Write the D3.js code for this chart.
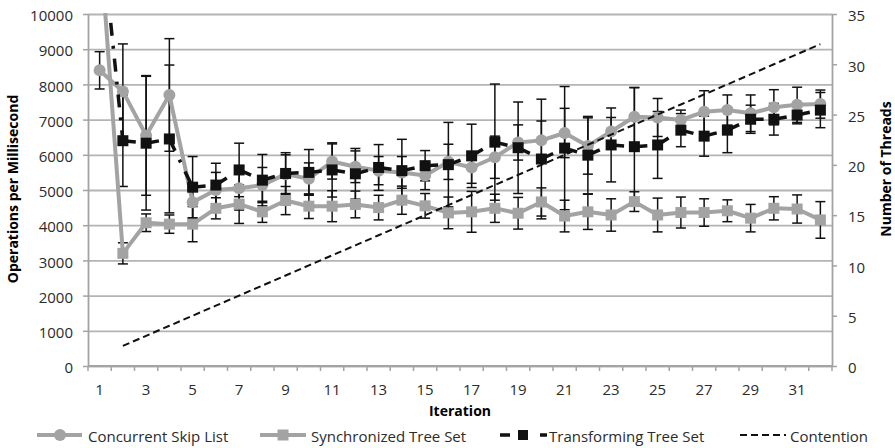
<!DOCTYPE html>
<html>
<head>
<meta charset="utf-8">
<script src="https://cdn.jsdelivr.net/npm/d3@7"></script>
<style>
    body { margin: 0; background: #fff; }
    text { font-family: "Open Sans", sans-serif; }
</style>
</head>
<body>
<div id="chart"></div>
<script>
// chart data
var iterations = [1, 2, 3, 4, 5, 6, 7, 8, 9, 10, 11, 12, 13, 14, 15, 16,
    17, 18, 19, 20, 21, 22, 23, 24, 25, 26, 27, 28, 29, 30, 31, 32];

var skipList = [8400, 7800, 6550, 7700, 4650, 5000, 5050, 5140, 5450, 5320, 5810, 5660, 5550, 5500, 5410, 5800,
    5640, 5930, 6350, 6410, 6620, 6250, 6660, 7080, 7060, 6990, 7220, 7270, 7180, 7350, 7420, 7440];
var skipListErr = [530, 1350, 1700, 1600, 450, 500, 620, 500, 550, 450, 500, 450, 400, 450, 400, 500,
    450, 600, 500, 550, 700, 800, 400, 830, 540, 280, 600, 430, 520, 500, 500, 400];

var syncTree = [12200, 3200, 4070, 4030, 4030, 4480, 4600, 4380, 4700, 4540, 4540, 4590, 4500, 4710, 4550, 4350,
    4380, 4480, 4340, 4660, 4260, 4380, 4290, 4670, 4290, 4360, 4360, 4410, 4200, 4480, 4460, 4150];
var syncTreeErr = [800, 300, 250, 260, 500, 300, 550, 300, 400, 350, 440, 380, 350, 400, 350, 450,
    580, 400, 450, 400, 450, 500, 460, 280, 480, 440, 390, 310, 390, 330, 400, 520];

var transTree = [12800, 6400, 6330, 6450, 5080, 5140, 5570, 5280, 5470, 5500, 5570, 5460, 5640, 5550, 5690, 5720,
    5970, 6360, 6200, 5880, 6190, 5990, 6280, 6230, 6280, 6700, 6530, 6700, 7010, 7010, 7130, 7270];
var transTreeErr = [1500, 1300, 1900, 2100, 870, 620, 760, 730, 590, 650, 770, 720, 650, 890, 430, 1200,
    900, 1650, 1300, 1700, 1750, 1100, 1050, 1680, 950, 470, 570, 640, 400, 450, 250, 500];

// number of threads (secondary axis), no value for the first iteration
var contention = [null, 2, 3, 4, 5, 6, 7, 8, 9, 10, 11, 12, 13, 14, 15, 16,
    17, 18, 19, 20, 21, 22, 23, 24, 25, 26, 27, 28, 29, 30, 31, 32];

// tick labels
var leftTicks = [0, 1000, 2000, 3000, 4000, 5000, 6000, 7000, 8000, 9000, 10000];
var rightTicks = [0, 5, 10, 15, 20, 25, 30, 35];
var xLabels = [1, 3, 5, 7, 9, 11, 13, 15, 17, 19, 21, 23, 25, 27, 29, 31];

var seriesNames = ["Concurrent Skip List", "Synchronized Tree Set", "Transforming Tree Set", "Contention"];

// svg area
var svgWidth = 895;
var svgHeight = 448;
var margin = { top: 14, right: 63, bottom: 82, left: 88 };
var plotWidth = svgWidth - margin.left - margin.right;
var plotHeight = svgHeight - margin.top - margin.bottom;

var grey = "#a3a3a3";
var gridGrey = "#b4b4b4";
var labelColour = "#2b2b2b";

var svg = d3.select("#chart").append("svg")
    .attr("width", svgWidth)
    .attr("height", svgHeight);

var chartGroup = svg.append("g")
    .attr("transform", `translate(${margin.left}, ${margin.top})`);

// clip to the plot area
svg.append("defs").append("clipPath")
    .attr("id", "plotClip")
    .append("rect")
    .attr("x", 0).attr("y", -1)
    .attr("width", plotWidth).attr("height", plotHeight + 1);

// scales
var xScale = d3.scaleBand().domain(iterations).range([0, plotWidth]);
var cx = d => xScale(d) + xScale.bandwidth() / 2;
var yLeft = d3.scaleLinear().domain([0, 10000]).range([plotHeight, 0]);
var yRight = d3.scaleLinear().domain([0, 35]).range([plotHeight, 0]);

// gridlines
var grid = chartGroup.append("g")
    .call(d3.axisLeft(yLeft).tickValues(leftTicks).tickSize(-plotWidth).tickFormat(""));
grid.select(".domain").remove();
grid.selectAll("line").attr("stroke", gridGrey).attr("stroke-width", 1.8);

// left axis
var leftAxis = chartGroup.append("g")
    .call(d3.axisLeft(yLeft).tickValues(leftTicks).tickFormat(d3.format("d"))
        .tickSize(5).tickSizeOuter(0).tickPadding(10));
leftAxis.select(".domain").attr("stroke", grey).attr("stroke-width", 1.8);
leftAxis.selectAll("line").attr("stroke", grey).attr("stroke-width", 1.5);
leftAxis.selectAll("text").attr("font-size", 15).attr("fill", labelColour).attr("dy", "0.45em");

// right axis
var rightAxis = chartGroup.append("g")
    .attr("transform", `translate(${plotWidth}, 0)`)
    .call(d3.axisRight(yRight).tickValues(rightTicks).tickFormat(d3.format("d"))
        .tickSize(5).tickSizeOuter(0).tickPadding(11));
rightAxis.select(".domain").attr("stroke", grey).attr("stroke-width", 1.8);
rightAxis.selectAll("line").attr("stroke", grey).attr("stroke-width", 1.5);
rightAxis.selectAll("text").attr("font-size", 15).attr("fill", labelColour).attr("dy", "0.45em");

// bottom axis: line, ticks between categories, labels on odd iterations
var bottomAxis = chartGroup.append("g")
    .attr("transform", `translate(0, ${plotHeight})`);
bottomAxis.append("line")
    .attr("x1", 0).attr("x2", plotWidth)
    .attr("stroke", grey).attr("stroke-width", 1.8);
bottomAxis.selectAll(".xtick").data(iterations.concat(["end"])).enter()
    .append("line")
    .attr("x1", d => d === "end" ? plotWidth : xScale(d))
    .attr("x2", d => d === "end" ? plotWidth : xScale(d))
    .attr("y1", 0).attr("y2", 5)
    .attr("stroke", grey).attr("stroke-width", 1.5);
bottomAxis.selectAll(".xlabel").data(xLabels).enter()
    .append("text")
    .attr("x", d => cx(d))
    .attr("y", 29)
    .attr("text-anchor", "middle")
    .attr("font-size", 15)
    .attr("fill", labelColour)
    .text(d => d);

// axis titles
svg.append("text")
    .attr("transform", "translate(17.5, 189) rotate(-90)")
    .attr("text-anchor", "middle")
    .attr("font-size", 14).attr("font-weight", "bold")
    .text("Operations per Millisecond");

svg.append("text")
    .attr("transform", "translate(891, 169) rotate(-90)")
    .attr("text-anchor", "middle")
    .attr("font-size", 14).attr("font-weight", "bold")
    .text("Number of Threads");

svg.append("text")
    .attr("x", margin.left + plotWidth / 2)
    .attr("y", 416)
    .attr("text-anchor", "middle")
    .attr("font-size", 14).attr("font-weight", "bold")
    .text("Iteration");

// plot layer
var plot = chartGroup.append("g").attr("clip-path", "url(#plotClip)");

function rowsOf(values, errors) {
    return iterations.map((it, i) => ({ it: it, v: values[i], e: errors ? errors[i] : 0 }));
}

// error bars
function drawErrorBars(values, errors) {
    var bars = plot.append("g").selectAll("g").data(rowsOf(values, errors)).enter().append("g")
        .attr("stroke", "#111").attr("stroke-width", 1.5);
    bars.append("line")
        .attr("x1", d => cx(d.it)).attr("x2", d => cx(d.it))
        .attr("y1", d => yLeft(d.v + d.e)).attr("y2", d => yLeft(d.v - d.e));
    bars.append("line")
        .attr("x1", d => cx(d.it) - 5).attr("x2", d => cx(d.it) + 5)
        .attr("y1", d => yLeft(d.v + d.e)).attr("y2", d => yLeft(d.v + d.e));
    bars.append("line")
        .attr("x1", d => cx(d.it) - 5).attr("x2", d => cx(d.it) + 5)
        .attr("y1", d => yLeft(d.v - d.e)).attr("y2", d => yLeft(d.v - d.e));
}

drawErrorBars(skipList, skipListErr);
drawErrorBars(syncTree, syncTreeErr);
drawErrorBars(transTree, transTreeErr);

var lineLeft = d3.line().x(d => cx(d.it)).y(d => yLeft(d.v));

// concurrent skip list: grey line, circles
plot.append("path")
    .datum(rowsOf(skipList))
    .attr("d", lineLeft)
    .attr("fill", "none").attr("stroke", grey).attr("stroke-width", 4).attr("stroke-linejoin", "round");
plot.append("g").selectAll("circle").data(rowsOf(skipList)).enter()
    .append("circle")
    .attr("cx", d => cx(d.it)).attr("cy", d => yLeft(d.v))
    .attr("r", 6).attr("fill", grey);

// synchronized tree set: grey line, squares
plot.append("path")
    .datum(rowsOf(syncTree))
    .attr("d", lineLeft)
    .attr("fill", "none").attr("stroke", grey).attr("stroke-width", 4).attr("stroke-linejoin", "round");
plot.append("g").selectAll("rect").data(rowsOf(syncTree)).enter()
    .append("rect")
    .attr("x", d => cx(d.it) - 5.5).attr("y", d => yLeft(d.v) - 5.5)
    .attr("width", 11).attr("height", 11).attr("fill", grey);

// transforming tree set: black dash-dot, pattern restarts on every segment
var transRows = rowsOf(transTree);
plot.append("g").selectAll("line").data(transRows.slice(1)).enter()
    .append("line")
    .attr("x1", (d, i) => cx(transRows[i].it)).attr("y1", (d, i) => yLeft(transRows[i].v))
    .attr("x2", d => cx(d.it)).attr("y2", d => yLeft(d.v))
    .attr("stroke", "#111").attr("stroke-width", 3.5)
    .attr("stroke-dasharray", "13,10,3,10");
plot.append("g").selectAll("rect").data(transRows).enter()
    .append("rect")
    .attr("x", d => cx(d.it) - 5.5).attr("y", d => yLeft(d.v) - 5.5)
    .attr("width", 11).attr("height", 11).attr("fill", "#111");

// contention on the secondary axis
plot.append("path")
    .datum(iterations.map((it, i) => ({ it: it, v: contention[i] })).filter(d => d.v !== null))
    .attr("d", d3.line().x(d => cx(d.it)).y(d => yRight(d.v)))
    .attr("fill", "none").attr("stroke", "#111").attr("stroke-width", 2)
    .attr("stroke-dasharray", "7,4");

// legend
var legendY = 435;
var legend = svg.append("g");
var legendItems = [
    { name: seriesNames[0], x0: 37, x1: 82, textX: 88 },
    { name: seriesNames[1], x0: 260, x1: 306, textX: 311 },
    { name: seriesNames[2], x0: 500, x1: 547, textX: 549 },
    { name: seriesNames[3], x0: 740, x1: 786, textX: 790 }
];

// skip list key
legend.append("line").attr("x1", legendItems[0].x0).attr("x2", legendItems[0].x1)
    .attr("y1", legendY).attr("y2", legendY).attr("stroke", grey).attr("stroke-width", 4);
legend.append("circle").attr("cx", 60).attr("cy", legendY).attr("r", 6).attr("fill", grey);
// synchronized key
legend.append("line").attr("x1", legendItems[1].x0).attr("x2", legendItems[1].x1)
    .attr("y1", legendY).attr("y2", legendY).attr("stroke", grey).attr("stroke-width", 4);
legend.append("rect").attr("x", 283 - 5.5).attr("y", legendY - 5.5).attr("width", 11).attr("height", 11).attr("fill", grey);
// transforming key
legend.append("line").attr("x1", legendItems[2].x0).attr("x2", legendItems[2].x1)
    .attr("y1", legendY).attr("y2", legendY).attr("stroke", "#111").attr("stroke-width", 3.5)
    .attr("stroke-dasharray", "10,30,7");
legend.append("rect").attr("x", 523 - 5).attr("y", legendY - 5).attr("width", 10).attr("height", 10).attr("fill", "#111");
// contention key
legend.append("line").attr("x1", legendItems[3].x0).attr("x2", legendItems[3].x1)
    .attr("y1", legendY).attr("y2", legendY).attr("stroke", "#111").attr("stroke-width", 2)
    .attr("stroke-dasharray", "7,4");

legend.selectAll(".ltext").data(legendItems).enter()
    .append("text")
    .attr("x", d => d.textX)
    .attr("y", 442)
    .attr("font-size", 15)
    .attr("fill", labelColour)
    .text(d => d.name);
</script>
</body>
</html>
